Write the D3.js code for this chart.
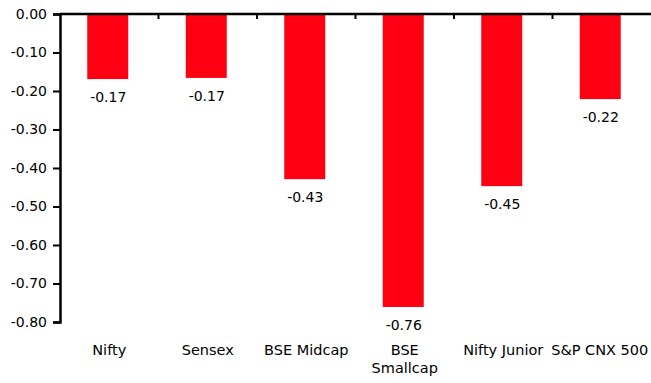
<!DOCTYPE html>
<html>
<head>
<meta charset="utf-8">
<script src="https://cdn.jsdelivr.net/npm/d3@7"></script>
<style>
  body { margin: 0; background: #fff; }
  text { font-family: "DejaVu Sans", sans-serif; fill: #000; }
</style>
</head>
<body>
<div id="chart"></div>
<script>
// index names and the change for each
const categories = ["Nifty", "Sensex", "BSE Midcap", "BSE Smallcap", "Nifty Junior", "S&P CNX 500"];
const values = [-0.169, -0.166, -0.429, -0.761, -0.447, -0.221];
const yTicks = [0, -0.1, -0.2, -0.3, -0.4, -0.5, -0.6, -0.7, -0.8];

const W = 651, H = 383;
var margin = {top: 14, right: 0, bottom: 61, left: 60},
    width = W - margin.left - margin.right,
    height = H - margin.top - margin.bottom;

const svg = d3.select("#chart").append("svg")
    .attr("width", W)
    .attr("height", H)
  .append("g")
    .attr("transform", "translate(" + margin.left + "," + margin.top + ")");

var x = d3.scaleBand()
  .domain(categories)
  .range([0, width]);

var y = d3.scaleLinear()
  .domain([0, -0.8])
  .range([0, height]);

// bars
svg.append("g").selectAll("rect")
  .data(values)
  .enter()
  .append("rect")
    .attr("x", (d, i) => x(categories[i]) + x.bandwidth() / 2 - 22)
    .attr("y", y(0))
    .attr("width", 41)
    .attr("height", d => y(d) - y(0))
    .attr("fill", "#fe0012");

// value labels under each bar
svg.append("g").selectAll("text")
  .data(values)
  .enter()
  .append("text")
    .attr("x", (d, i) => x(categories[i]) + x.bandwidth() / 2 - 1)
    .attr("y", d => y(d) + 23)
    .attr("text-anchor", "middle")
    .style("font-size", "14px")
    .text(d => d.toFixed(2));

// y axis
var yAxis = svg.append("g")
  .call(d3.axisLeft(y).tickValues(yTicks).tickSize(7).tickPadding(6).tickFormat(d => d.toFixed(2)));
yAxis.select(".domain").attr("stroke-width", 2.5);
yAxis.selectAll(".tick line").attr("stroke-width", 2);
yAxis.selectAll("text").style("font-size", "14px").attr("fill", "#000");

// category axis along the zero line, ticks between the bars
var xAxis = svg.append("g");
xAxis.append("line")
  .attr("x1", 0).attr("x2", width)
  .attr("y1", y(0)).attr("y2", y(0))
  .attr("stroke", "#000").attr("stroke-width", 2.5);
xAxis.selectAll(".sep")
  .data(categories.slice(1))
  .enter()
  .append("line")
    .attr("class", "sep")
    .attr("x1", d => x(d)).attr("x2", d => x(d))
    .attr("y1", y(0)).attr("y2", y(0) + 5)
    .attr("stroke", "#000").attr("stroke-width", 2);

// category names below the plot
svg.append("g").selectAll("text")
  .data(categories)
  .enter()
  .append("text")
    .attr("x", d => x(d) + x.bandwidth() / 2)
    .attr("y", height + 33)
    .attr("text-anchor", "middle")
    .style("font-size", "14.5px")
    .each(function(d) {
      var lines = d == "BSE Smallcap" ? ["BSE", "Smallcap"] : [d];
      var cx = x(d) + x.bandwidth() / 2;
      if (d == "S&P CNX 500") cx -= 2;
      var t = d3.select(this);
      lines.forEach((l, k) => {
        t.append("tspan").attr("x", cx).attr("dy", k ? 18 : 0).text(l);
      });
    });
</script>
</body>
</html>
